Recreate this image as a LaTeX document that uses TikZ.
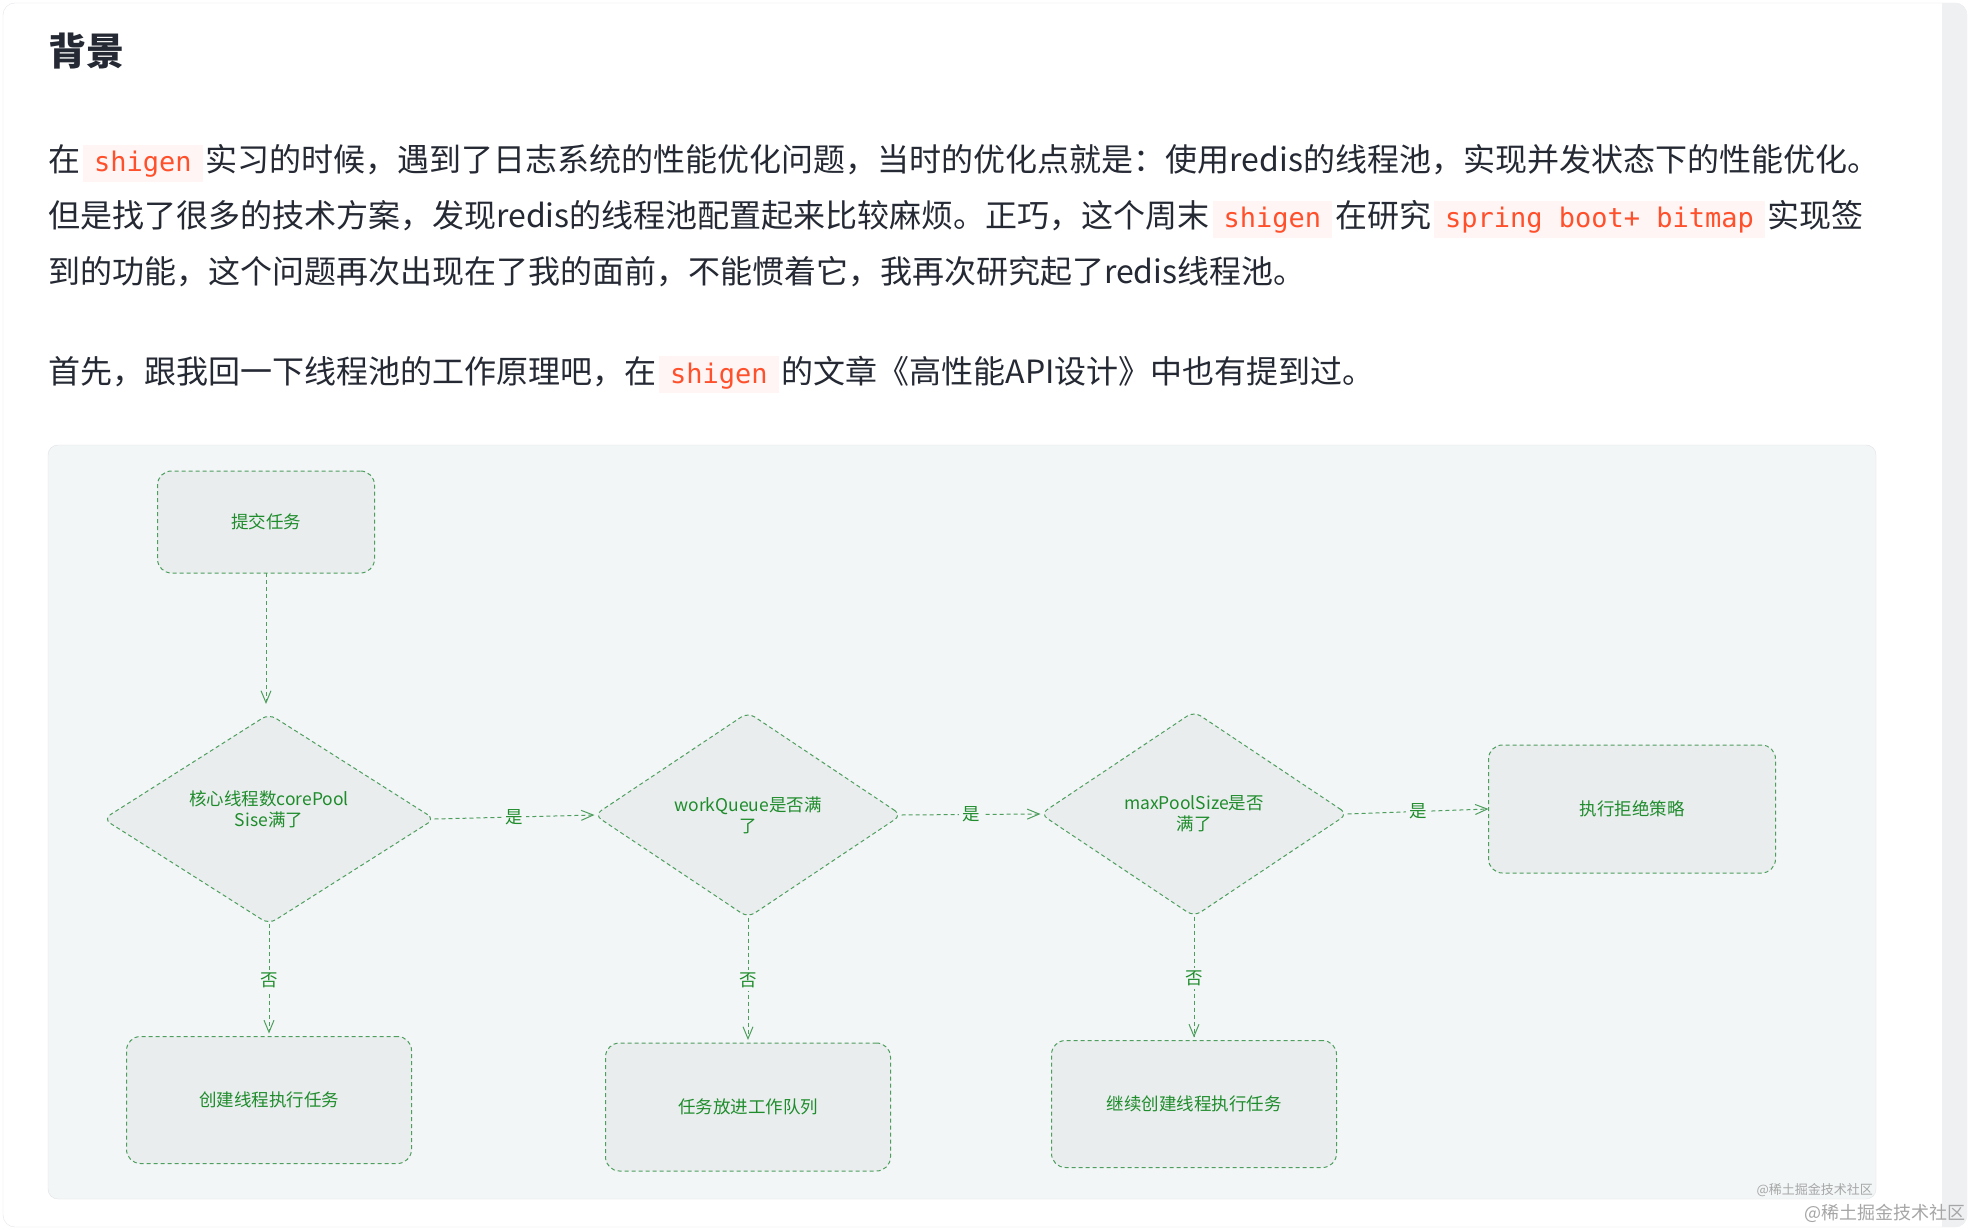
\documentclass[tikz,border=0pt]{standalone}
\usepackage{fontspec}
\setmainfont{Noto Sans CJK SC}
\newfontfamily\codefont{DejaVu Sans Mono}
\usetikzlibrary{arrows.meta,shapes.geometric}
\definecolor{bgtext}{HTML}{252933}
\definecolor{bgcode}{HTML}{FF502C}
\definecolor{bgcodefill}{HTML}{FFF5F5}
\definecolor{bgcard}{HTML}{E4E6EB}
\definecolor{bgstrip}{HTML}{EFF0F2}
\definecolor{bgmark}{HTML}{A6A6A6}
\definecolor{flowpanel}{HTML}{F2F6F7}
\definecolor{flowedge}{HTML}{E0E4E6}
\definecolor{flowfill}{HTML}{E9EDEE}
\definecolor{flowline}{HTML}{4E9E5E}
\definecolor{flowtext}{HTML}{1F8C2C}
\newcommand{\inlinecode}[1]{\hspace{3pt}{\setlength{\fboxsep}{0pt}\colorbox{bgcodefill}{\hspace{11pt}\rule[-10pt]{0pt}{37pt}\textcolor{bgcode}{\codefont\fontsize{27}{27}\selectfont #1}\hspace{11pt}}}\hspace{3pt}}

\begin{document}
\begin{tikzpicture}[x=1pt,y=-1pt,
    bodyline/.style={anchor=base west,inner sep=0pt,text=bgtext,font=\fontsize{32}{32}\selectfont},
    flowbox/.style={draw=flowline,fill=flowfill,line width=1pt,dash pattern=on 4pt off 3pt,
      rounded corners=14pt,text=flowtext,font=\fontsize{17.5}{21}\selectfont,align=center,
      inner sep=0pt,outer sep=0pt},
    flowdiamond/.style={flowbox,diamond,rounded corners=8pt},
    flowarrow/.style={draw=flowline,line width=1pt,dash pattern=on 4pt off 3pt,
      -{Straight Barb[length=12pt,width=10pt]}},
    flowlabel/.style={midway,fill=flowpanel,inner sep=3pt,text=flowtext,font=\fontsize{17.5}{17.5}\selectfont}]
  \useasboundingbox (0,0) rectangle (1972,1230);
  \fill[white] (0,0) rectangle (1972,1230);

  % page card
  \draw[draw=bgcard,fill=white,rounded corners=12pt] (3,3) rectangle (1967,1227);
  \begin{scope}
    \clip[rounded corners=12pt] (3,3) rectangle (1967,1227);
    \fill[bgstrip] (1942,3) rectangle (1967,1227);
  \end{scope}

  % text
  \node[anchor=base west,inner sep=0pt,text=bgtext,font=\bfseries\fontsize{38}{38}\selectfont] (title) at (48,66) {背景};
  \node[bodyline] (line1) at (48,172) {在\inlinecode{shigen}实习的时候，遇到了日志系统的性能优化问题，当时的优化点就是：使用redis的线程池，实现并发状态下的性能优化。};
  \node[bodyline] (line2) at (48,228) {但是找了很多的技术方案，发现redis的线程池配置起来比较麻烦。正巧，这个周末\inlinecode{shigen}在研究\inlinecode{spring boot+ bitmap}实现签};
  \node[bodyline] (line3) at (48,284) {到的功能，这个问题再次出现在了我的面前，不能惯着它，我再次研究起了redis线程池。};
  \node[bodyline] (line4) at (48,383) {首先，跟我回一下线程池的工作原理吧，在\inlinecode{shigen}的文章《高性能API设计》中也有提到过。};

  % flow chart panel
  \draw[draw=flowedge,fill=flowpanel,rounded corners=10pt] (48,445) rectangle (1876,1199);

  \node[flowbox,minimum width=217pt,minimum height=102pt] (submit) at (266,522) {提交任务};
  \node[flowdiamond,minimum width=331pt,minimum height=210pt] (d1) at (269,819) {};
  \node[text=flowtext,font=\fontsize{17.5}{21}\selectfont,align=center,inner sep=0pt] (d1text)
    at ([yshift=10pt]d1.center) {核心线程数corePool\\Sise满了};
  \node[flowdiamond,minimum width=307pt,minimum height=205pt] (d2) at (748,815) {workQueue是否满\\了};
  \node[flowdiamond,minimum width=307pt,minimum height=205pt] (d3) at (1194,814) {maxPoolSize是否\\满了};
  \node[flowbox,minimum width=287pt,minimum height=128pt] (reject) at (1632,809) {执行拒绝策略};
  \node[flowbox,minimum width=285pt,minimum height=127pt] (create) at (269,1100) {创建线程执行任务};
  \node[flowbox,minimum width=285pt,minimum height=128pt] (queue) at (748,1107) {任务放进工作队列};
  \node[flowbox,minimum width=285pt,minimum height=127pt] (more) at (1194,1104) {继续创建线程执行任务};

  \draw[flowarrow,shorten >=10pt] (submit) -- (submit |- d1.north);
  \foreach \from/\to in {d1/d2,d2/d3,d3/reject}
    \draw[flowarrow] (\from.east) -- node[flowlabel] {是} (\to.west);
  \foreach \from/\to in {d1/create,d2/queue,d3/more}
    \draw[flowarrow,shorten >=3pt] (\from.south) -- node[flowlabel] {否} (\to.north);

  % watermarks
  \node[anchor=south east,inner sep=0pt,text=bgmark,font=\fontsize{13}{13}\selectfont] (markin) at (1873,1197) {@稀土掘金技术社区};
  \node[anchor=south east,inner sep=0pt,text=bgmark,font=\fontsize{18}{18}\selectfont] (markout) at (1966,1223) {@稀土掘金技术社区};
\end{tikzpicture}
\end{document}
